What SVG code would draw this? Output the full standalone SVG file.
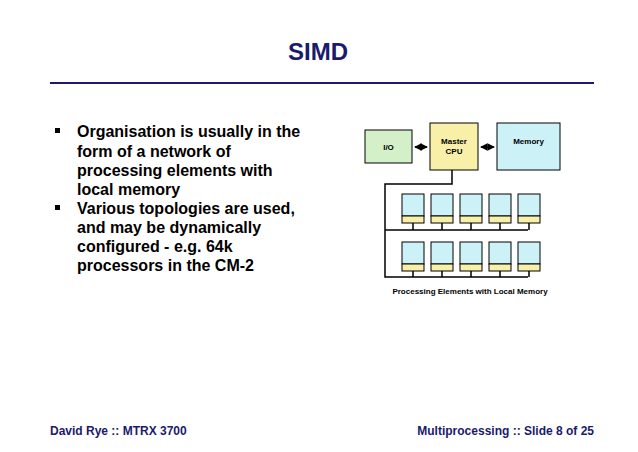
<svg xmlns="http://www.w3.org/2000/svg" width="638" height="452" viewBox="0 0 638 452">
<style>
text{font-family:"Liberation Sans",Arial,sans-serif;font-weight:bold}
.b{font-size:16px;fill:#000}
.f{font-size:12px;fill:#1a1a6e}
.s{font-size:8px;fill:#000}
.ln{fill:none;stroke:#000;stroke-width:1.5}
.pb{fill:#ccf2f8;stroke:#000;stroke-width:1}
.py{fill:#f8f0a8;stroke:#000;stroke-width:1}
</style>
<defs>
<marker id="a" viewBox="0 0 8 8" refX="7" refY="4" markerWidth="5" markerHeight="5" orient="auto-start-reverse"><path d="M0,0L8,4L0,8z" fill="#000"/></marker>
<g id="pe"><rect class="pb" x="0" y="0" width="22" height="22"/><rect class="py" x="0" y="22" width="22" height="7"/></g>
</defs>
<rect width="638" height="452" fill="#fff"/>
<text x="318" y="60" text-anchor="middle" font-size="24" fill="#1a1a6e">SIMD</text>
<line x1="50" y1="83" x2="594" y2="83" stroke="#1a1a6e" stroke-width="2"/>
<g class="b">
<rect x="55" y="128" width="5" height="5" fill="#000"/>
<text class="b" x="77" y="137">Organisation is usually in the</text>
<text class="b" x="77" y="157">form of a network of</text>
<text class="b" x="77" y="176">processing elements with</text>
<text class="b" x="77" y="195">local memory</text>
<rect x="55" y="205" width="5" height="5" fill="#000"/>
<text class="b" x="77" y="214">Various topologies are used,</text>
<text class="b" x="77" y="233">and may be dynamically</text>
<text class="b" x="77" y="252">configured - e.g. 64k</text>
<text class="b" x="77" y="271">processors in the CM-2</text>
</g>
<g id="connectors">
<line class="ln" x1="415" y1="147" x2="427" y2="147" marker-start="url(#a)" marker-end="url(#a)"/>
<line class="ln" x1="481" y1="147" x2="494" y2="147" marker-start="url(#a)" marker-end="url(#a)"/>
<polyline class="ln" points="452,170 452,184 385,184 385,277 528,277"/>
<line class="ln" x1="385" y1="230" x2="528" y2="230"/>
<path class="ln" d="M413,223V230M442,223V230M471,223V230M500,223V230M529,223V230M413,271V277M442,271V277M471,271V277M500,271V277M529,271V277"/>
</g>
<g id="io"><rect x="365" y="130" width="47" height="33" fill="#d4f0c8" stroke="#000"/><text class="s" x="388.5" y="150" text-anchor="middle">I/O</text></g>
<g id="cpu"><rect x="430" y="123" width="48" height="47" fill="#f8f0a8" stroke="#000"/><text class="s" x="454" y="144" text-anchor="middle">Master</text><text class="s" x="454" y="154" text-anchor="middle">CPU</text></g>
<g id="memory"><rect x="497" y="123" width="63" height="47" fill="#ccf2f8" stroke="#000"/><text class="s" x="528.5" y="144" text-anchor="middle">Memory</text></g>
<g id="pes">
<use href="#pe" x="402" y="194"/><use href="#pe" x="431" y="194"/><use href="#pe" x="460" y="194"/><use href="#pe" x="489" y="194"/><use href="#pe" x="518" y="194"/>
<use href="#pe" x="402" y="242"/><use href="#pe" x="431" y="242"/><use href="#pe" x="460" y="242"/><use href="#pe" x="489" y="242"/><use href="#pe" x="518" y="242"/>
</g>
<text class="s" x="470" y="294" text-anchor="middle">Processing Elements with Local Memory</text>
<text class="f" x="50" y="435">David Rye :: MTRX 3700</text>
<text class="f" x="594" y="435" text-anchor="end">Multiprocessing :: Slide 8 of 25</text>
</svg>
